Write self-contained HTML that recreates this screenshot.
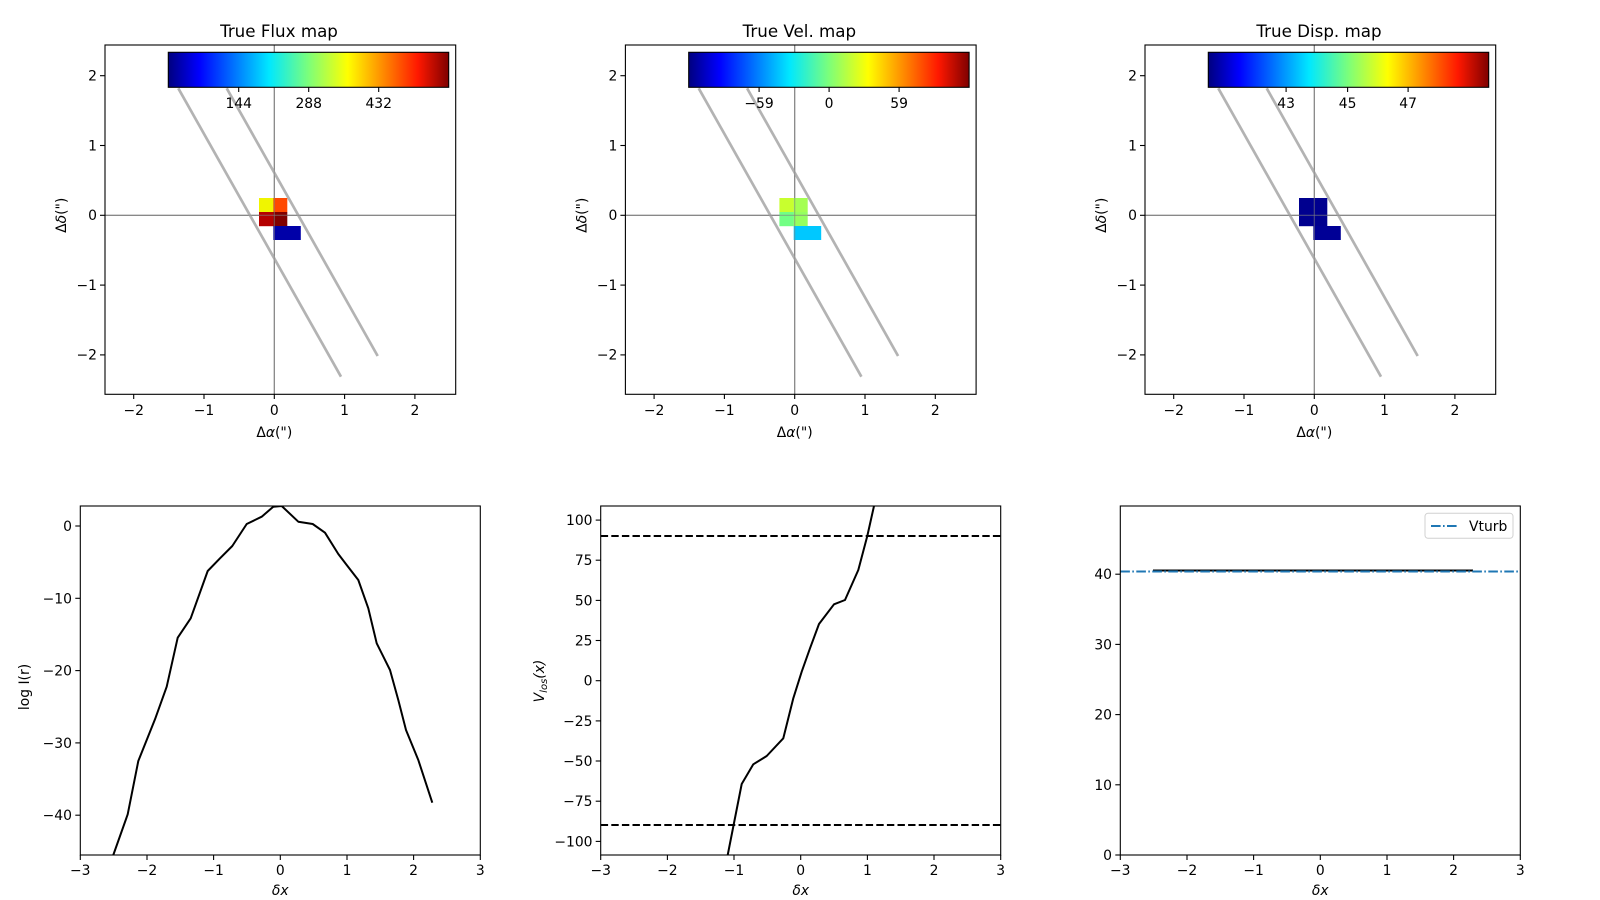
<!DOCTYPE html>
<html><head><meta charset="utf-8"><style>
html,body{margin:0;padding:0;background:#fff}
svg{display:block}
text{font-family:"DejaVu Sans","Liberation Sans",sans-serif;font-size:13.9px;fill:#000}
.t{font-size:16.7px}
</style></head><body>
<svg width="1600" height="900" viewBox="0 0 1600 900" xmlns="http://www.w3.org/2000/svg">
<defs>
<linearGradient id="jet" x1="0" x2="1" y1="0" y2="0">
<stop offset="0" stop-color="#00007f"/><stop offset="0.11" stop-color="#0000ff"/>
<stop offset="0.36" stop-color="#00e8ff"/><stop offset="0.5" stop-color="#7cff7a"/>
<stop offset="0.64" stop-color="#ffff00"/><stop offset="0.89" stop-color="#ff1800"/>
<stop offset="1" stop-color="#7f0000"/></linearGradient>
<clipPath id="c1"><rect x="80.3" y="506" width="400" height="349"/></clipPath>
<clipPath id="c2"><rect x="600.7" y="506" width="400" height="349"/></clipPath>
</defs>

<g id="top">
<rect x="105" y="45" width="350.7" height="349.3" fill="#fff"/>
<line x1="274.3" y1="45" x2="274.3" y2="394.3" stroke="#808080" stroke-width="1.1"/>
<line x1="105" y1="215.3" x2="455.7" y2="215.3" stroke="#808080" stroke-width="1.1"/>
<line x1="178.3" y1="88.3" x2="341" y2="376.7" stroke="#b3b3b3" stroke-width="2.7"/>
<line x1="226.7" y1="88.3" x2="377.7" y2="356" stroke="#b3b3b3" stroke-width="2.7"/>
</g>
<use href="#top" transform="translate(520.4,0)"/>
<use href="#top" transform="translate(1040,0)"/>

<rect x="259" y="198" width="14.5" height="14.2" fill="#f0f500"/>
<rect x="273.3" y="198" width="14" height="14.2" fill="#ff4800"/>
<rect x="259" y="212" width="14.5" height="14.2" fill="#b40000"/>
<rect x="273.3" y="212" width="14" height="14.2" fill="#7f0000"/>
<rect x="273.3" y="226" width="27.5" height="14" fill="#0000a8"/>
<g transform="translate(520.4,0)">
<rect x="259" y="198" width="14.5" height="14.2" fill="#c8ff2e"/>
<rect x="273.3" y="198" width="14" height="14.2" fill="#a4ff52"/>
<rect x="259" y="212" width="14.5" height="14.2" fill="#72ff84"/>
<rect x="273.3" y="212" width="14" height="14.2" fill="#96ff60"/>
<rect x="273.3" y="226" width="27.5" height="14" fill="#00c8ff"/>
</g>
<g transform="translate(1040,0)">
<rect x="259" y="198" width="28.3" height="28.2" fill="#00008f"/>
<rect x="273.3" y="226" width="27.5" height="14" fill="#000096"/>
</g>

<g id="frame">
<line x1="274.3" y1="45" x2="274.3" y2="394.3" stroke="#808080" stroke-width="1.1" opacity="0.6"/>
<line x1="105" y1="215.3" x2="455.7" y2="215.3" stroke="#808080" stroke-width="1.1" opacity="0.6"/>
<rect x="105" y="45" width="350.7" height="349.3" fill="none" stroke="#000" stroke-width="1.1"/>
<rect x="168.3" y="52.3" width="280.4" height="35" fill="url(#jet)" stroke="#000" stroke-width="1.1"/>
<g stroke="#000" stroke-width="1.1">
<line x1="133.7" y1="394.3" x2="133.7" y2="399"/><line x1="204" y1="394.3" x2="204" y2="399"/><line x1="274.3" y1="394.3" x2="274.3" y2="399"/><line x1="344.6" y1="394.3" x2="344.6" y2="399"/><line x1="414.9" y1="394.3" x2="414.9" y2="399"/>
<line x1="100" y1="75.7" x2="105" y2="75.7"/><line x1="100" y1="145.5" x2="105" y2="145.5"/><line x1="100" y1="215.3" x2="105" y2="215.3"/><line x1="100" y1="285.1" x2="105" y2="285.1"/><line x1="100" y1="354.9" x2="105" y2="354.9"/>
</g>
<g text-anchor="middle">
<text x="133.7" y="415">−2</text><text x="204" y="415">−1</text><text x="274.3" y="415">0</text><text x="344.6" y="415">1</text><text x="414.9" y="415">2</text>
<text x="274.3" y="437">Δ<tspan font-style="italic">α</tspan>(")</text>
</g>
<g text-anchor="end">
<text x="97" y="80.5">2</text><text x="97" y="150.3">1</text><text x="97" y="220.1">0</text><text x="97" y="289.9">−1</text><text x="97" y="359.7">−2</text>
</g>
<text transform="translate(66,215.3) rotate(-90)" text-anchor="middle">Δ<tspan font-style="italic">δ</tspan>(")</text>
</g>
<use href="#frame" transform="translate(520.4,0)"/>
<use href="#frame" transform="translate(1040,0)"/>

<g stroke="#000" stroke-width="1.1">
<line x1="238.7" y1="87.3" x2="238.7" y2="92"/><line x1="308.7" y1="87.3" x2="308.7" y2="92"/><line x1="378.7" y1="87.3" x2="378.7" y2="92"/>
<line x1="759.1" y1="87.3" x2="759.1" y2="92"/><line x1="829.1" y1="87.3" x2="829.1" y2="92"/><line x1="899.1" y1="87.3" x2="899.1" y2="92"/>
<line x1="1286.1" y1="87.3" x2="1286.1" y2="92"/><line x1="1347.6" y1="87.3" x2="1347.6" y2="92"/><line x1="1408.1" y1="87.3" x2="1408.1" y2="92"/>
</g>
<g text-anchor="middle">
<text class="t" x="279" y="37">True Flux map</text>
<text class="t" x="799.4" y="37">True Vel. map</text>
<text class="t" x="1319" y="37">True Disp. map</text>
<text x="238.7" y="108">144</text><text x="308.7" y="108">288</text><text x="378.7" y="108">432</text>
<text x="759.1" y="108">−59</text><text x="829.1" y="108">0</text><text x="899.1" y="108">59</text>
<text x="1286.1" y="108">43</text><text x="1347.6" y="108">45</text><text x="1408.1" y="108">47</text>
</g>

<polyline clip-path="url(#c1)" fill="none" stroke="#000" stroke-width="2" stroke-linejoin="round" points="113.3,855 127.7,814.3 138.3,761 155,719.3 166.7,686.7 177.7,637.7 190.7,618.3 207.7,571 220,558.3 232.3,546 246.7,524 261.7,516.7 273.3,506.7 281.7,506 298.3,521.7 312.7,524 325,532.7 338.3,554 346.7,565 358.3,580 368.3,608.3 376.7,643.3 390,670 398.3,700 406,730 418.3,760 432.3,802.7"/>
<rect x="80.3" y="506" width="400" height="349" fill="none" stroke="#000" stroke-width="1.1"/>
<g id="bx" stroke="#000" stroke-width="1.1">
<line x1="80.3" y1="855" x2="80.3" y2="860"/><line x1="147" y1="855" x2="147" y2="860"/><line x1="213.6" y1="855" x2="213.6" y2="860"/><line x1="280.3" y1="855" x2="280.3" y2="860"/><line x1="347" y1="855" x2="347" y2="860"/><line x1="413.6" y1="855" x2="413.6" y2="860"/><line x1="480.3" y1="855" x2="480.3" y2="860"/>
</g>
<g id="bxl" text-anchor="middle">
<text x="80.3" y="875">−3</text><text x="147" y="875">−2</text><text x="213.6" y="875">−1</text><text x="280.3" y="875">0</text><text x="347" y="875">1</text><text x="413.6" y="875">2</text><text x="480.3" y="875">3</text>
<text x="280.3" y="895" font-style="italic">δx</text>
</g>
<g stroke="#000" stroke-width="1.1">
<line x1="75.3" y1="526" x2="80.3" y2="526"/><line x1="75.3" y1="598.3" x2="80.3" y2="598.3"/><line x1="75.3" y1="670.6" x2="80.3" y2="670.6"/><line x1="75.3" y1="742.9" x2="80.3" y2="742.9"/><line x1="75.3" y1="815.2" x2="80.3" y2="815.2"/>
</g>
<g text-anchor="end">
<text x="72" y="531">0</text><text x="72" y="603.3">−10</text><text x="72" y="675.6">−20</text><text x="72" y="747.9">−30</text><text x="72" y="820.2">−40</text>
</g>
<text transform="translate(29,687) rotate(-90)" text-anchor="middle">log I(r)</text>

<line x1="600.7" y1="536" x2="1000.7" y2="536" stroke="#000" stroke-width="2" stroke-dasharray="7.4,3.2"/>
<line x1="600.7" y1="825" x2="1000.7" y2="825" stroke="#000" stroke-width="2" stroke-dasharray="7.4,3.2"/>
<polyline clip-path="url(#c2)" fill="none" stroke="#000" stroke-width="2" stroke-linejoin="round" points="725.5,862 727.7,855 741.7,784 753.3,764.3 766.7,756 783.3,738.3 793.3,698.3 801.7,671.7 810,648.3 819,624 834,604.3 845,600 858.3,570 867.3,536 874,506 876,498"/>
<rect x="600.7" y="506" width="400" height="349" fill="none" stroke="#000" stroke-width="1.1"/>
<use href="#bx" transform="translate(520.4,0)"/>
<use href="#bxl" transform="translate(520.4,0)"/>
<g stroke="#000" stroke-width="1.1">
<line x1="595.7" y1="520.1" x2="600.7" y2="520.1"/><line x1="595.7" y1="560.2" x2="600.7" y2="560.2"/><line x1="595.7" y1="600.4" x2="600.7" y2="600.4"/><line x1="595.7" y1="640.5" x2="600.7" y2="640.5"/><line x1="595.7" y1="680.7" x2="600.7" y2="680.7"/><line x1="595.7" y1="720.9" x2="600.7" y2="720.9"/><line x1="595.7" y1="761" x2="600.7" y2="761"/><line x1="595.7" y1="801.2" x2="600.7" y2="801.2"/><line x1="595.7" y1="841.4" x2="600.7" y2="841.4"/>
</g>
<g text-anchor="end">
<text x="592.5" y="525.1">100</text><text x="592.5" y="565.2">75</text><text x="592.5" y="605.4">50</text><text x="592.5" y="645.5">25</text><text x="592.5" y="685.7">0</text><text x="592.5" y="725.9">−25</text><text x="592.5" y="766">−50</text><text x="592.5" y="806.2">−75</text><text x="592.5" y="846.4">−100</text>
</g>
<text transform="translate(544,681) rotate(-90)" text-anchor="middle" font-style="italic">V<tspan font-size="10px" dy="3">los</tspan><tspan dy="-3">(x)</tspan></text>

<line x1="1153" y1="570.5" x2="1473" y2="570.5" stroke="#000" stroke-width="2"/>
<line x1="1120.3" y1="571.5" x2="1520.3" y2="571.5" stroke="#1f77b4" stroke-width="2" stroke-dasharray="9.6,2.4,1.6,2.4"/>
<rect x="1120.3" y="506" width="400" height="349" fill="none" stroke="#000" stroke-width="1.1"/>
<use href="#bx" transform="translate(1040,0)"/>
<use href="#bxl" transform="translate(1040,0)"/>
<g stroke="#000" stroke-width="1.1">
<line x1="1115.3" y1="855" x2="1120.3" y2="855"/><line x1="1115.3" y1="784.8" x2="1120.3" y2="784.8"/><line x1="1115.3" y1="714.6" x2="1120.3" y2="714.6"/><line x1="1115.3" y1="644.4" x2="1120.3" y2="644.4"/><line x1="1115.3" y1="574.2" x2="1120.3" y2="574.2"/>
</g>
<g text-anchor="end">
<text x="1112" y="860">0</text><text x="1112" y="789.8">10</text><text x="1112" y="719.6">20</text><text x="1112" y="649.4">30</text><text x="1112" y="579.2">40</text>
</g>
<rect x="1425" y="513.3" width="88" height="25" rx="3" fill="#fff" stroke="#d0d0d0" stroke-width="1"/>
<line x1="1431" y1="526" x2="1459" y2="526" stroke="#1f77b4" stroke-width="2" stroke-dasharray="9.6,2.4,1.6,2.4"/>
<text x="1469" y="531">Vturb</text>
</svg>
</body></html>
